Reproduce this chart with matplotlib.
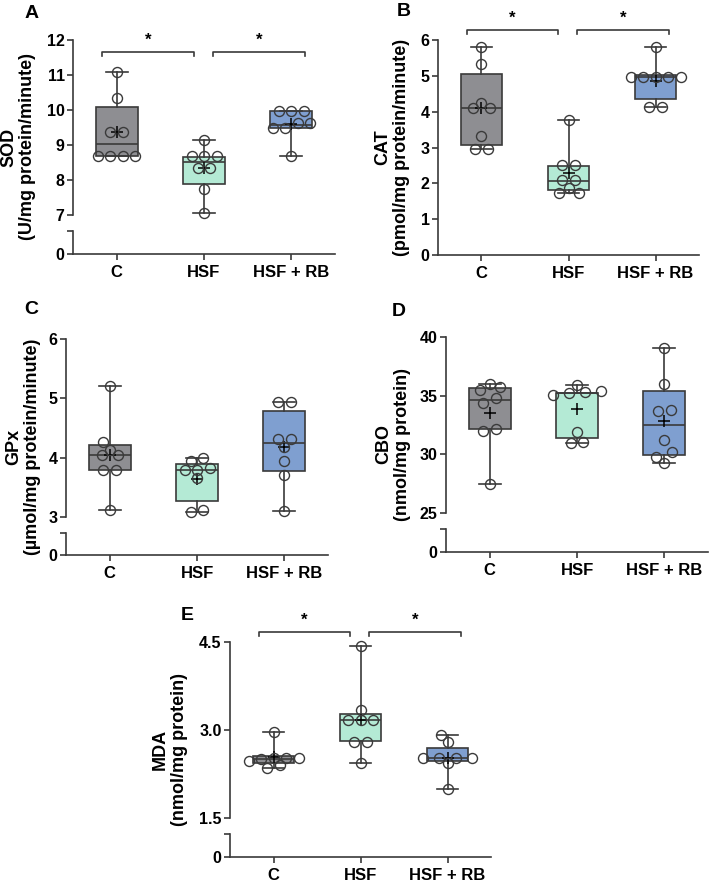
import numpy as np
import matplotlib
matplotlib.use('Agg')
import matplotlib.pyplot as plt

plt.rcParams['font.family'] = ['Liberation Sans', 'DejaVu Sans']
plt.rcParams['font.weight'] = 'bold'

groups = ['C', 'HSF', 'HSF + RB']

# SOD
sod_c = [11.08, 10.35, 9.36, 9.36, 8.69, 8.69, 8.69, 8.69]
sod_hsf = [9.14, 8.69, 8.69, 8.69, 8.35, 8.35, 7.74, 7.06]
sod_rb = [9.98, 9.98, 9.98, 9.62, 9.50, 9.62, 9.50, 8.69]
sod_q1 = [8.69, 7.90, 9.50]
sod_med = [9.02, 8.52, 9.57]
sod_q3 = [10.10, 8.67, 9.98]

# CAT
cat_c = [5.80, 5.32, 4.25, 4.09, 4.09, 3.33, 2.95, 2.95]
cat_hsf = [3.77, 2.51, 2.51, 2.09, 2.09, 1.86, 1.72, 1.72]
cat_rb = [5.80, 4.96, 4.96, 4.96, 4.96, 4.96, 4.14, 4.14]
cat_q1 = [3.07, 1.81, 4.35]
cat_med = [4.09, 2.07, 4.96]
cat_q3 = [5.04, 2.48, 5.02]

# GPx
gpx_c = [5.20, 4.27, 4.13, 4.04, 4.04, 3.80, 3.80, 3.11]
gpx_hsf = [3.99, 3.95, 3.82, 3.79, 3.79, 3.65, 3.12, 3.08]
gpx_rb = [4.94, 4.94, 4.31, 4.31, 4.18, 3.95, 3.71, 3.10]
gpx_q1 = [3.80, 3.27, 3.78]
gpx_med = [4.04, 3.79, 4.24]
gpx_q3 = [4.21, 3.90, 4.78]

# CBO
cbo_c = [35.97, 35.77, 35.45, 34.77, 34.40, 32.13, 32.00, 27.50]
cbo_hsf = [35.90, 35.40, 35.34, 35.23, 35.06, 31.93, 31.05, 31.00]
cbo_rb = [39.03, 36.00, 33.78, 33.69, 31.22, 30.17, 29.80, 29.23]
cbo_q1 = [32.13, 31.36, 29.94]
cbo_med = [34.60, 35.20, 32.47]
cbo_q3 = [35.68, 35.26, 35.43]

# MDA
mda_c = [2.96, 2.53, 2.53, 2.53, 2.50, 2.47, 2.40, 2.35]
mda_hsf = [4.44, 3.34, 3.17, 3.17, 3.17, 2.80, 2.80, 2.44]
mda_rb = [2.91, 2.79, 2.53, 2.53, 2.53, 2.53, 2.43, 1.99]
mda_q1 = [2.43, 2.82, 2.47]
mda_med = [2.50, 3.17, 2.53]
mda_q3 = [2.56, 3.28, 2.70]

W, H = 710, 885
fig = plt.figure(figsize=(W / 100, H / 100), dpi=100)

box_colors = ['#8e8e92', '#b4ead5', '#7f9fd0']
edge = '#3a3a3a'
lw = 1.2
D = 10.0  # circle diameter in pixels


def place(l, r, t, b):
    return fig.add_axes([l / W, 1 - b / H, (r - l) / W, (b - t) / H])


def style_axis(ax):
    for s in ['top', 'right']:
        ax.spines[s].set_visible(False)
    for s in ['left', 'bottom']:
        ax.spines[s].set_color(edge)
        ax.spines[s].set_linewidth(lw)
    ax.tick_params(direction='out', length=4, width=lw, color=edge,
                   labelsize=11.5, pad=2)
    ax.set_xlim(-0.5, 2.5)


def overlap(px, py, placed):
    tot = 0.0
    for qx, qy in placed:
        dist = np.hypot(px - qx, py - qy)
        tot += max(0.0, D - dist)
    return tot


def swarm(ax, vals, x0):
    # rows of near-equal values, spread symmetrically, widened on collision
    s = 1.25 * D
    y0, y1 = ax.get_ylim()
    ypx = ax.bbox.height / (y1 - y0)
    xpx = ax.bbox.width / 3.0
    vals = np.asarray(vals, dtype=float)
    order = np.argsort(vals)
    rows = []
    for i in order:
        if rows and abs(vals[i] - vals[rows[-1][0]]) * ypx < 0.5 * D:
            rows[-1].append(i)
        else:
            rows.append([i])
    rows.sort(key=lambda r: len(r))
    placed = []
    xs = np.zeros(len(vals))
    for row in rows:
        n = len(row)
        if n == 1:
            cands = [[0.0], [-0.5 * s], [0.5 * s], [-s], [s]]
        else:
            cands = [[(k - (n - 1) / 2) * s * f for k in range(n)]
                     for f in (1.0, 1.3, 1.6, 2.0)]
        best, best_cost = None, None
        for j, offs in enumerate(cands):
            cost = sum(overlap(o, vals[i] * ypx, placed)
                       for o, i in zip(offs, row)) + 0.6 * j
            if best_cost is None or cost < best_cost - 1e-9:
                best, best_cost = offs, cost
        for o, i in zip(best, row):
            placed.append((o, vals[i] * ypx))
            xs[i] = x0 + o / xpx
    return xs


def draw_panel(ax, data, q1, med, q3):
    stats = []
    for i, v in enumerate(data):
        stats.append(dict(med=med[i], q1=q1[i], q3=q3[i], whislo=min(v),
                          whishi=max(v), mean=np.mean(v), fliers=[]))
    bp = ax.bxp(stats, positions=[0, 1, 2], widths=0.48, capwidths=0.25,
                patch_artist=True, showmeans=True, manage_ticks=False,
                boxprops=dict(edgecolor=edge, linewidth=lw),
                medianprops=dict(color=edge, linewidth=lw),
                whiskerprops=dict(color=edge, linewidth=lw),
                capprops=dict(color=edge, linewidth=lw),
                meanprops=dict(marker='+', markeredgecolor='black',
                               markersize=9, markeredgewidth=1.1))
    for patch, c in zip(bp['boxes'], box_colors):
        patch.set_facecolor(c)
    for i, v in enumerate(data):
        xs = swarm(ax, v, i)
        ax.plot(xs, v, 'o', mfc='none', mec=edge, ms=7.2, mew=1.0,
                zorder=5, clip_on=False)


def bracket(ax, x0, x1, y, ystar):
    h = (ax.get_ylim()[1] - ax.get_ylim()[0]) / ax.bbox.height * 4
    ax.plot([x0, x0, x1, x1], [y - h, y, y, y - h], color=edge, lw=lw,
            clip_on=False)
    ax.text((x0 + x1) / 2, ystar, '*', ha='center', va='center',
            fontsize=12, fontweight='bold')


panels = [
    dict(letter='A', lx=25, ly=13, data=[sod_c, sod_hsf, sod_rb],
         q1=sod_q1, med=sod_med, q3=sod_q3,
         label='SOD\n(U/mg protein/minute)', labx=18,
         frame=(73, 335, 40, 215), lower=(231, 254),
         ylim=(7, 12), ticks=[7, 8, 9, 10, 11, 12], fmt='{:g}',
         sig=(11.66, 12.0)),
    dict(letter='B', lx=397, ly=11, data=[cat_c, cat_hsf, cat_rb],
         q1=cat_q1, med=cat_med, q3=cat_q3,
         label='CAT\n(pmol/mg protein/minute)', labx=392,
         frame=(438, 699, 40, 255), lower=None,
         ylim=(0, 6), ticks=[0, 1, 2, 3, 4, 5, 6], fmt='{:g}',
         sig=(6.28, 6.61)),
    dict(letter='C', lx=24, ly=310, data=[gpx_c, gpx_hsf, gpx_rb],
         q1=gpx_q1, med=gpx_med, q3=gpx_q3,
         label='GPx\n(\u00b5mol/mg protein/minute)', labx=23,
         frame=(66, 328, 339, 517), lower=(533, 555),
         ylim=(3, 6), ticks=[3, 4, 5, 6], fmt='{:g}', sig=None),
    dict(letter='D', lx=392, ly=311, data=[cbo_c, cbo_hsf, cbo_rb],
         q1=cbo_q1, med=cbo_med, q3=cbo_q3,
         label='CBO\n(nmol/mg protein)', labx=393,
         frame=(446, 708, 337, 513), lower=(529, 552),
         ylim=(25, 40), ticks=[25, 30, 35, 40], fmt='{:g}', sig=None),
    dict(letter='E', lx=181, ly=615, data=[mda_c, mda_hsf, mda_rb],
         q1=mda_q1, med=mda_med, q3=mda_q3,
         label='MDA\n(nmol/mg protein)', labx=170,
         frame=(230, 491, 642, 818), lower=(834, 857),
         ylim=(1.5, 4.5), ticks=[1.5, 3.0, 4.5], fmt='{:.1f}',
         sig=(4.67, 4.87)),
]

for p in panels:
    l, r, t, b = p['frame']
    ax = place(l, r, t, b)
    style_axis(ax)
    ax.set_ylim(*p['ylim'])
    ax.set_yticks(p['ticks'])
    ax.set_yticklabels([p['fmt'].format(v) for v in p['ticks']])
    if p['lower'] is not None:
        ax.spines['bottom'].set_visible(False)
        ax.set_xticks([])
        lt, lb = p['lower']
        axb = place(l, r, lt, lb)
        style_axis(axb)
        axb.set_ylim(0, 1)
        axb.set_yticks([0, 1])
        axb.set_yticklabels(['0', ''])
        axb.patch.set_alpha(0)
        bottom_ax = axb
        ybot = lb
    else:
        bottom_ax = ax
        ybot = b
    bottom_ax.set_xticks([0, 1, 2])
    bottom_ax.set_xticklabels(groups, fontsize=12)
    bottom_ax.tick_params(axis='x', pad=4)

    draw_panel(ax, p['data'], p['q1'], p['med'], p['q3'])

    if p['sig'] is not None:
        yl, ys = p['sig']
        bracket(ax, -0.17, 0.885, yl, ys)
        bracket(ax, 1.10, 2.16, yl, ys)

    fig.text(p['lx'] / W, 1 - p['ly'] / H, p['letter'], ha='left',
             va='center', fontsize=14, fontweight='bold')
    fig.text(p['labx'] / W, 1 - (t + ybot) / 2 / H, p['label'],
             rotation=90, ha='center', va='center', multialignment='center',
             fontsize=13, fontweight='bold', linespacing=1.15)

fig.savefig('out.png', dpi=100)
